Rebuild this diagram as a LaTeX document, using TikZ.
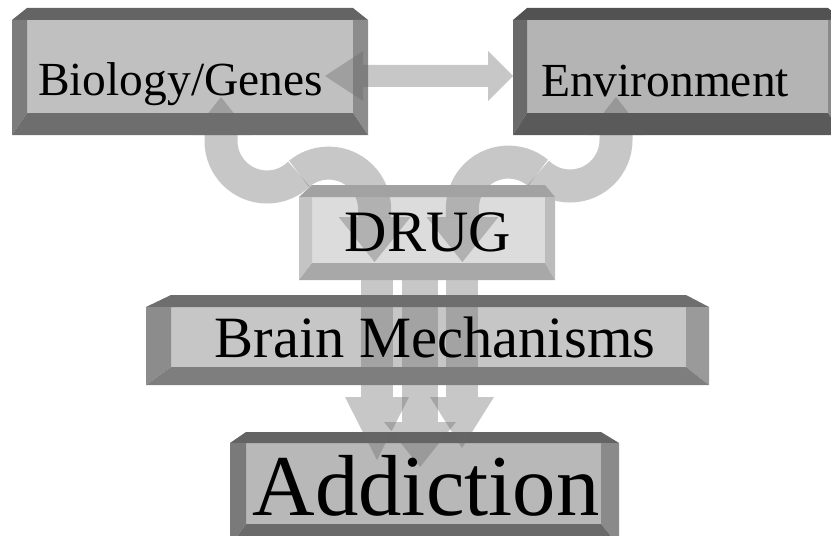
\documentclass[tikz,border=0pt]{standalone}
\usepackage{fontspec}
\setmainfont{Liberation Serif}
\usetikzlibrary{calc}
% colours
\definecolor{arrowc}{RGB}{104,104,104}
\definecolor{bioface}{RGB}{192,192,192}\definecolor{biotop}{RGB}{100,100,100}\definecolor{bioleft}{RGB}{124,124,124}\definecolor{biobot}{RGB}{110,110,110}\definecolor{bioright}{RGB}{140,140,140}
\definecolor{envface}{RGB}{180,180,180}\definecolor{envtop}{RGB}{82,82,82}\definecolor{envleft}{RGB}{106,106,106}\definecolor{envbot}{RGB}{90,90,90}\definecolor{envright}{RGB}{138,138,138}
\definecolor{drgface}{RGB}{220,220,220}\definecolor{drgtop}{RGB}{162,162,162}\definecolor{drgleft}{RGB}{196,196,196}\definecolor{drgbot}{RGB}{168,168,168}\definecolor{drgright}{RGB}{188,188,188}
\definecolor{brnface}{RGB}{198,198,198}\definecolor{brntop}{RGB}{110,110,110}\definecolor{brnleft}{RGB}{140,140,140}\definecolor{brnbot}{RGB}{126,126,126}\definecolor{brnright}{RGB}{154,154,154}
\definecolor{addface}{RGB}{184,184,184}\definecolor{addtop}{RGB}{100,100,100}\definecolor{addleft}{RGB}{122,122,122}\definecolor{addbot}{RGB}{106,106,106}\definecolor{addright}{RGB}{138,138,138}
% face: FL FT FR FB prefix
\newcommand\bvface[5]{\fill[#5face] (#1,-#2) rectangle (#3,-#4);}
% bevels: L FL FR R T FT FB B prefix
\newcommand\bvbevel[9]{%
  \fill[#9top] (#1,-#6) -- (#2,-#5) -- (#3,-#5) -- (#4,-#6) -- cycle;
  \fill[#9left] (#1,-#6) -- (#2,-#6) -- (#2,-#7) -- (#1,-#8) -- cycle;
  \fill[#9right] (#4,-#6) -- (#3,-#6) -- (#3,-#7) -- (#4,-#8) -- cycle;
  \fill[#9bot] (#1,-#8) -- (#2,-#7) -- (#3,-#7) -- (#4,-#8) -- cycle;}
\begin{document}
\begin{tikzpicture}[x=0.75pt,y=0.75pt,
  band/.style={draw=arrowc, draw opacity=0.37, line width=24.75pt, line cap=butt},
  ahead/.style={fill=arrowc, fill opacity=0.37},
  lbl/.style={anchor=base, inner sep=0pt, text=black}]
\useasboundingbox (0,0) rectangle (831,-535);
\clip (0,0) rectangle (831,-535);
% faces
\bvface{27}{20}{353}{113}{bio}
\bvface{527}{20}{828}{113}{env}
\bvface{312}{197}{545}{263}{drg}
\bvface{171}{307}{686}{367}{brn}
\bvface{246}{443}{601}{524}{add}
\bvbevel{230}{246}{601}{619}{432}{443}{524}{546}{add}
% arrow centres
\coordinate (lc1) at (267,-141);
\coordinate (lc2) at (328.6,-209.1);
\coordinate (rc1) at (570,-140);
\coordinate (rc2) at (508.4,-208.1);
% left S-curve (Biology <-> DRUG)
\draw[band] (221,-135) -- (221,-141) arc[start angle=180,end angle=314,radius=46];
\draw[band] (lc2) ++(130:46) arc[start angle=130,end angle=0,radius=46] -- (374.6,-217);
\fill[ahead] (338.6,-217) -- (410.6,-217) -- (374.6,-262) -- cycle;
\fill[ahead] (191,-135) -- (251,-135) -- (221,-97) -- cycle;
% right S-curve (Environment <-> DRUG)
\draw[band] (616,-135) -- (616,-140) arc[start angle=0,end angle=-134,radius=46];
\draw[band] (rc2) ++(50:46) arc[start angle=50,end angle=180,radius=46] -- (462.4,-217);
\fill[ahead] (426.4,-217) -- (498.4,-217) -- (462.4,-262) -- cycle;
\fill[ahead] (586,-135) -- (646,-135) -- (616,-97) -- cycle;
% down arrows
\fill[ahead] (361,-280) rectangle (393,-397);
\fill[ahead] (345,-397) -- (409,-397) -- (377,-460) -- cycle;
\fill[ahead] (402,-280) rectangle (438,-422);
\fill[ahead] (384,-422) -- (456,-422) -- (420,-467) -- cycle;
\fill[ahead] (446,-280) rectangle (478,-397);
\fill[ahead] (430,-397) -- (494,-397) -- (462,-448) -- cycle;
% bevels on top
\bvbevel{12}{27}{353}{368}{8}{20}{113}{135}{bio}
\bvbevel{513}{527}{828}{843}{8}{20}{113}{135}{env}
\bvbevel{299}{312}{545}{555}{185}{197}{263}{280}{drg}
\bvbevel{146}{171}{686}{709}{295}{307}{367}{385}{brn}
% horizontal double arrow
\fill[ahead] (325,-76) -- (363,-51) -- (363,-65) -- (488,-65) -- (488,-51) -- (513,-76)
  -- (488,-101) -- (488,-87) -- (363,-87) -- (363,-101) -- cycle;
% labels
\node[lbl, font=\fontsize{35.6}{40}\selectfont] (bio) at (180.5,-95) {Biology/Genes};
\node[lbl, font=\fontsize{35.6}{40}\selectfont] (env) at (665,-96) {Environment};
\node[lbl, font=\fontsize{44}{48}\selectfont] (drug) at (428,-251) {DRUG};
\node[lbl, font=\fontsize{43.9}{48}\selectfont] (brain) at (435,-357) {Brain Mechanisms};
\node[lbl, font=\fontsize{65}{70}\selectfont] (addiction) at (426,-515) {Addiction};
\end{tikzpicture}
\end{document}
